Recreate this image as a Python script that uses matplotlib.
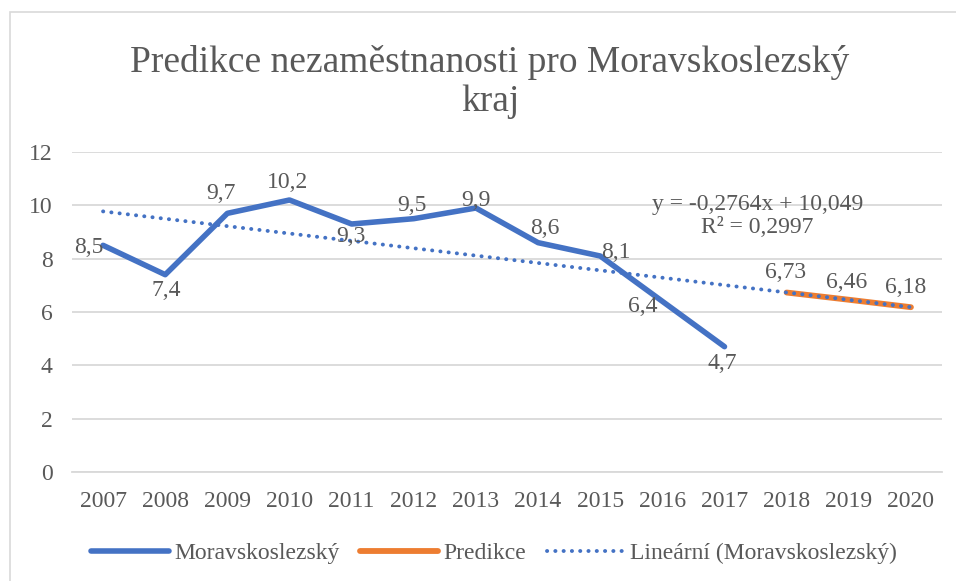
import numpy as np
import matplotlib
matplotlib.use('Agg')
import matplotlib.pyplot as plt
from matplotlib.patches import Rectangle

# data
roky = ['2007', '2008', '2009', '2010', '2011', '2012', '2013',
        '2014', '2015', '2016', '2017', '2018', '2019', '2020']
moravskoslezsky = [8.5, 7.4, 9.7, 10.2, 9.3, 9.5, 9.9, 8.6, 8.1, 6.4, 4.7]
predikce = [6.73, 6.46, 6.18]

MODRA = '#4472C4'
ORANZOVA = '#ED7D31'
SEDA = '#595959'
MRIZKA = '#D9D9D9'

plt.rcParams['font.family'] = ['Liberation Serif', 'DejaVu Serif']
plt.rcParams['text.color'] = SEDA

def fmt(v, des):
    return f'{v:.{des}f}'.replace('.', ',')

x_msk = np.arange(len(moravskoslezsky))
x_pred = np.arange(len(moravskoslezsky), len(roky))
x_all = np.arange(len(roky))

# linearni trend (Excel indexuje od 1)
k, q = np.polyfit(x_msk + 1, moravskoslezsky, 1)
fit = k * (x_msk + 1) + q
y_arr = np.array(moravskoslezsky)
r2 = 1 - np.sum((y_arr - fit) ** 2) / np.sum((y_arr - y_arr.mean()) ** 2)
trend = k * (x_all + 1) + q

fig = plt.figure(figsize=(9.56, 5.81), dpi=100)
ax = fig.add_axes([72 / 956, 1 - 472 / 581, 870 / 956, 320 / 581])

# ramecek grafu
fig.patches.append(Rectangle((10 / 956, -0.1), 1.2, 1 - 12 / 581 + 0.1,
                             transform=fig.transFigure, fill=False,
                             edgecolor=MRIZKA, linewidth=1.2))

l1, = ax.plot(x_msk, moravskoslezsky, color=MODRA, linewidth=4,
              solid_capstyle='round', solid_joinstyle='round', zorder=3,
              label='Moravskoslezský')
l2, = ax.plot(x_pred, predikce, color=ORANZOVA, linewidth=4.2,
              solid_capstyle='round', zorder=3, label='Predikce')
l3, = ax.plot(x_all, trend, color=MODRA, linewidth=2.8,
              linestyle=(0, (0.05, 2.08)), dash_capstyle='round', zorder=4,
              label='Lineární (Moravskoslezský)')

# popisky hodnot: posun v pixelech (dx, dy nahoru)
posuny = [(-14, -2), (1, -16), (-6, 20), (-2, 18), (-1, -13), (-2, 13),
          (0, 8), (7, 14), (16, 4), (-20, -5), (-2, -17)]
for xi, v, (dx, dy) in zip(x_msk, moravskoslezsky, posuny):
    ax.annotate(fmt(v, 1), (xi, v), xytext=(dx * 0.72, dy * 0.72),
                textcoords='offset points', ha='center', va='center',
                fontsize=17, color=SEDA, zorder=5)
posuny_pred = [(-1, 20), (-2, 17), (-5, 20)]
for xi, v, (dx, dy) in zip(x_pred, predikce, posuny_pred):
    ax.annotate(fmt(v, 2), (xi, v), xytext=(dx * 0.72, dy * 0.72),
                textcoords='offset points', ha='center', va='center',
                fontsize=17, color=SEDA, zorder=5)

# rovnice trendu
ax.text(10.53, 9.6, f'y = {fmt(k, 4)}x + {fmt(q, 3)}\nR² = {fmt(r2, 4)}',
        ha='center', va='center', fontsize=17, color=SEDA,
        linespacing=1.15, zorder=5)

ax.set_xlim(-0.5, len(roky) - 0.5)
ax.set_ylim(0, 12)
ax.set_yticks(range(0, 13, 2))
ax.set_xticks(x_all)
ax.set_xticklabels(roky)
ax.grid(axis='y', color=MRIZKA, linewidth=1.3)
ax.set_axisbelow(True)
for s in ['top', 'right', 'left']:
    ax.spines[s].set_visible(False)
ax.spines['bottom'].set_color(MRIZKA)
ax.spines['bottom'].set_linewidth(1.3)
ax.tick_params(axis='both', length=0, labelsize=17, colors=SEDA)
ax.tick_params(axis='y', pad=14)
ax.tick_params(axis='x', pad=14)

fig.text(490 / 956, 1 - 82 / 581,
         'Predikce nezaměstnanosti pro Moravskoslezský\nkraj',
         ha='center', va='center', fontsize=27, color=SEDA, linespacing=1.2)

fig.legend(handles=[l1, l2, l3], loc='center',
           bbox_to_anchor=(494 / 956, 1 - 553 / 581), ncol=3, frameon=False,
           fontsize=17, handlelength=3.3, handletextpad=0.2,
           columnspacing=0.9, labelcolor=SEDA)

fig.savefig('out.png', dpi=100, facecolor='white')
